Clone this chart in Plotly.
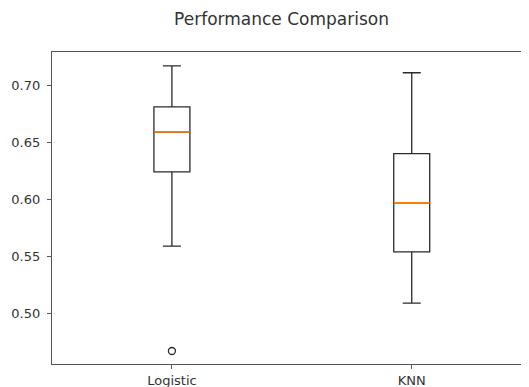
import plotly.graph_objects as go

models = ["Logistic", "KNN"]
positions = [1, 2]
lower_whisker = [0.559, 0.509]
q1 = [0.624, 0.554]
median = [0.659, 0.597]
q3 = [0.681, 0.640]
upper_whisker = [0.717, 0.711]
outlier_pos = [1]
outlier_val = [0.467]

BOX_W = 0.15
fig = go.Figure()
for i in range(len(models)):
    fig.add_trace(go.Box(
        x=[positions[i]], q1=[q1[i]], median=[median[i]], q3=[q3[i]],
        lowerfence=[lower_whisker[i]], upperfence=[upper_whisker[i]],
        width=BOX_W, whiskerwidth=0.5, fillcolor="rgba(0,0,0,0)",
        line=dict(color="#2b2b2b", width=1.3), boxpoints=False,
        showlegend=False, hoverinfo="skip"))
    fig.add_trace(go.Scatter(
        x=[positions[i] - BOX_W / 2, positions[i] + BOX_W / 2],
        y=[median[i], median[i]], mode="lines",
        line=dict(color="#ff7f0e", width=1.5), showlegend=False, hoverinfo="skip"))

fig.add_trace(go.Scatter(
    x=outlier_pos, y=outlier_val, mode="markers",
    marker=dict(symbol="circle-open", size=7, color="#2b2b2b", line=dict(width=1.3)),
    showlegend=False, hoverinfo="skip"))

fig.update_layout(
    width=521, height=379,
    margin=dict(l=44, r=0, t=44, b=23),
    paper_bgcolor="white", plot_bgcolor="white",
    font=dict(family="DejaVu Sans", size=13, color="#333333"),
    title=dict(text="Performance Comparison", x=0.525, xref="container", xanchor="center",
               y=0.971, yref="container", yanchor="middle",
               font=dict(family="DejaVu Sans", size=17, color="#333333")),
)
fig.update_xaxes(
    range=[0.5, 2.489], tickmode="array", tickvals=positions, ticktext=models,
    showgrid=False, zeroline=False, showline=True, linecolor="#555555", linewidth=1.3,
    mirror=True, ticks="outside", ticklen=4, tickcolor="#555555",
)
fig.update_yaxes(
    range=[0.4556, 0.7292], tickvals=[0.50, 0.55, 0.60, 0.65, 0.70], tickformat=".2f",
    showgrid=False, zeroline=False, showline=True, linecolor="#555555", linewidth=1.3,
    ticks="outside", ticklen=4, tickcolor="#555555", ticklabelstandoff=4,
)
fig.write_html("out.html")
